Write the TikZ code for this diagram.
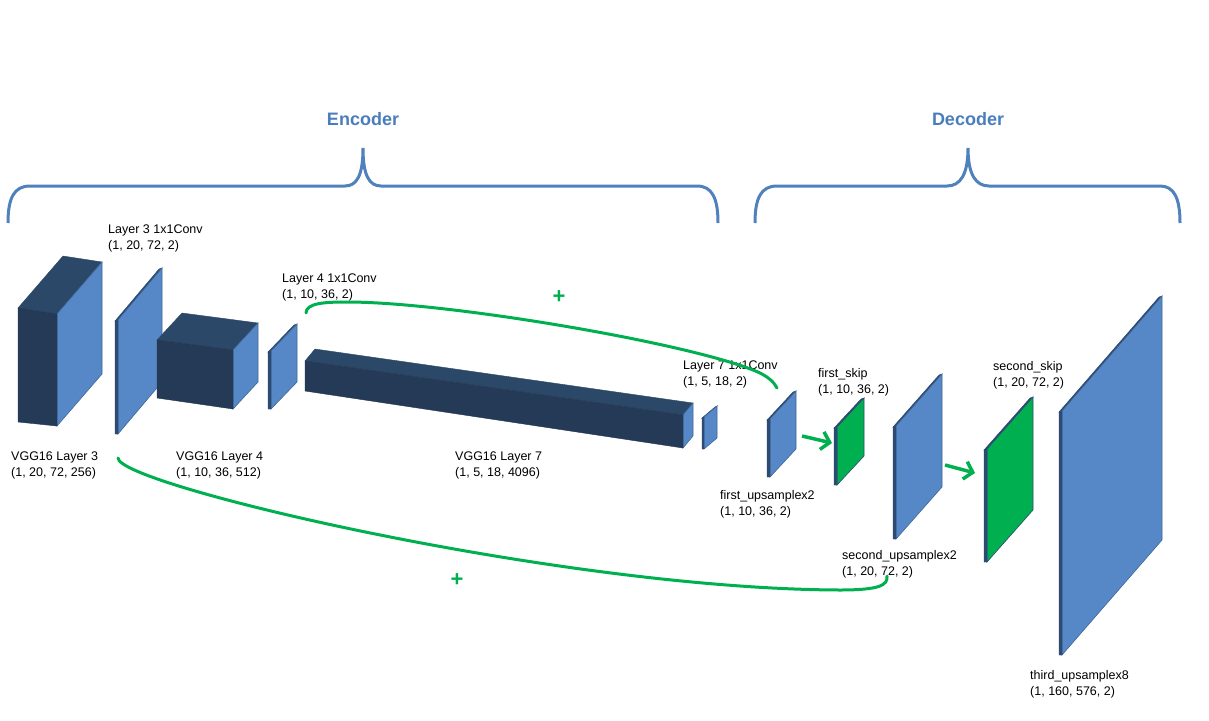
\documentclass[tikz,border=0pt]{standalone}
\usepackage{fontspec}
\setmainfont{Liberation Sans}
\usetikzlibrary{calc,arrows.meta}
\definecolor{frontdark}{HTML}{253A57}
\definecolor{topdark}{HTML}{2B4868}
\definecolor{sideblue}{HTML}{5688C8}
\definecolor{edgeblue}{HTML}{3F6697}
\definecolor{slabedge}{HTML}{2C4A72}
\definecolor{skipgreen}{HTML}{00B050}
\definecolor{bracecol}{HTML}{4F81BD}
\definecolor{titlecol}{HTML}{4A7EBB}
\newcommand\drawcnnblock[9]{%
  \coordinate (#1tl) at (#2,#4);
  \coordinate (#1tr) at (#3,#5);
  \coordinate (#1br) at (#3,#6);
  \coordinate (#1bl) at (#2,#7);
  \path[topface] (#1tl) -- (#1tr) -- ($(#1tr)+(#8,#9)$) -- ($(#1tl)+(#8,#9)$) -- cycle;
  \path[sideface] (#1tr) -- (#1br) -- ($(#1br)+(#8,#9)$) -- ($(#1tr)+(#8,#9)$) -- cycle;
  \path[frontface] (#1tl) -- (#1tr) -- (#1br) -- (#1bl) -- cycle;
}
\tikzset{
  frontface/.style={fill=frontdark, draw=frontdark!90!black, line width=0.4pt},
  topface/.style={fill=topdark, draw=topdark, line width=0.4pt},
  sideface/.style={fill=sideblue, draw=edgeblue, line width=0.6pt},
  darkbox/.style={},
  blueslab/.style={frontface/.style={fill=slabedge, draw=slabedge, line width=0.4pt},
                   topface/.style={fill=slabedge, draw=slabedge, line width=0.4pt}},
  greenslab/.style={frontface/.style={fill=slabedge, draw=slabedge, line width=0.4pt},
                    topface/.style={fill=slabedge, draw=slabedge, line width=0.4pt},
                    sideface/.style={fill=skipgreen, draw=slabedge, line width=0.6pt}},
  lbl/.style={font=\fontsize{12.5}{16}\selectfont, align=left, anchor=north west, inner sep=0pt},
  title/.style={font=\fontsize{18}{22}\selectfont\bfseries, text=titlecol, inner sep=0pt},
  plussign/.style={font=\fontsize{22}{24}\selectfont\bfseries, text=skipgreen, inner sep=0pt},
  brace/.style={draw=bracecol, line width=3pt},
  skipline/.style={draw=skipgreen, line width=3pt, line cap=round},
  skiparrow/.style={draw=skipgreen, line width=3.5pt, -{Straight Barb[length=8pt,width=18pt]}},
}
\begin{document}
\begin{tikzpicture}[x=1pt,y=-1pt]
\useasboundingbox[fill=white] (0,0) rectangle (1209,720);

% titles
\node[title] (enc) at (363,119) {Encoder};
\node[title] (dec) at (968,119) {Decoder};

% braces
\draw[brace] (8,223) .. controls (8,198) and (14,186) .. (30,186) -- (345,186)
  .. controls (357,186) and (363,175) .. (363,148)
  .. controls (363,175) and (369,186) .. (381,186) -- (697,186)
  .. controls (712,186) and (718,198) .. (718,223);
\draw[brace] (755,223) .. controls (755,198) and (761,186) .. (777,186) -- (947,186)
  .. controls (960,186) and (968,175) .. (968,148)
  .. controls (968,175) and (976,186) .. (989,186) -- (1160,186)
  .. controls (1174,186) and (1180,198) .. (1180,223);

% blocks
\begin{scope}[darkbox]
  \drawcnnblock{b1}{18}{57}{308}{314}{426}{422}{45}{-52}
\end{scope}
\begin{scope}[blueslab]
  \drawcnnblock{b2}{115}{118}{321}{320}{434}{434}{44}{-52}
\end{scope}
\begin{scope}[darkbox]
  \drawcnnblock{b3}{157}{233}{340}{350}{409}{398}{25}{-27}
\end{scope}
\begin{scope}[blueslab]
  \drawcnnblock{b4}{268}{271}{352}{351}{409}{409}{26}{-27}
\end{scope}
\begin{scope}[darkbox]
  \drawcnnblock{b5}{305}{683}{361}{415}{448}{391}{10}{-12}
\end{scope}
\begin{scope}[blueslab]
  \drawcnnblock{b6}{702}{704}{418}{417}{449}{449}{13}{-11}
  \drawcnnblock{b7}{767}{770}{420}{419}{477}{477}{26}{-28}
\end{scope}
\begin{scope}[greenslab]
  \drawcnnblock{b8}{834}{837}{428}{427}{485}{485}{27}{-29}
\end{scope}
\begin{scope}[blueslab]
  \drawcnnblock{b9}{893}{896}{427}{426}{539}{539}{46}{-52}
\end{scope}
\begin{scope}[greenslab]
  \drawcnnblock{b10}{984}{987}{450}{449}{562}{562}{46}{-52}
\end{scope}
\begin{scope}[blueslab]
  \drawcnnblock{b11}{1059}{1062}{412}{411}{655}{655}{100}{-115}
\end{scope}

% labels
\node[lbl] (l3conv) at (108,225) {Layer 3 1x1Conv\\(1, 20, 72, 2)};
\node[lbl] (l4conv) at (282,274) {Layer 4 1x1Conv\\(1, 10, 36, 2)};
\node[lbl] (l7conv) at (683,361) {Layer 7 1x1Conv\\(1, 5, 18, 2)};
\node[lbl] (fskip) at (818,368) {first\_skip\\(1, 10, 36, 2)};
\node[lbl] (sskip) at (993,361) {second\_skip\\(1, 20, 72, 2)};
\node[lbl] (vgg3) at (11,452) {VGG16 Layer 3\\(1, 20, 72, 256)};
\node[lbl] (vgg4) at (176,452) {VGG16 Layer 4\\(1, 10, 36, 512)};
\node[lbl] (vgg7) at (455,452) {VGG16 Layer 7\\(1, 5, 18, 4096)};
\node[lbl] (fup) at (720,490) {first\_upsamplex2\\(1, 10, 36, 2)};
\node[lbl] (sup) at (842,550) {second\_upsamplex2\\(1, 20, 72, 2)};
\node[lbl] (tup) at (1030,670) {third\_upsamplex8\\(1, 160, 576, 2)};

% skip connections
\coordinate (skipAfrom) at (306,313);
\coordinate (skipAto) at (777,388);
\coordinate (skipBfrom) at (118,458);
\coordinate (skipBto) at (887,576);
\draw[skipline] (skipAfrom) .. controls (306,303) and (325,302) .. (347,302)
  .. controls (450,302) and (700,345) .. (760,373)
  .. controls (768,377) and (774,382) .. (skipAto);
\draw[skipline] (skipBfrom) .. controls (118,485) and (560,589) .. (840,590)
  .. controls (880,590) and (888,585) .. (skipBto);
\node[plussign] (plusA) at (559,297) {+};
\node[plussign] (plusB) at (457,580) {+};

% arrows
\coordinate (arrAfrom) at (802,436);
\coordinate (arrAto) at (832,443);
\coordinate (arrBfrom) at (945,465);
\coordinate (arrBto) at (975,473);
\draw[skiparrow] (arrAfrom) -- (arrAto);
\draw[skiparrow] (arrBfrom) -- (arrBto);
\end{tikzpicture}
\end{document}
